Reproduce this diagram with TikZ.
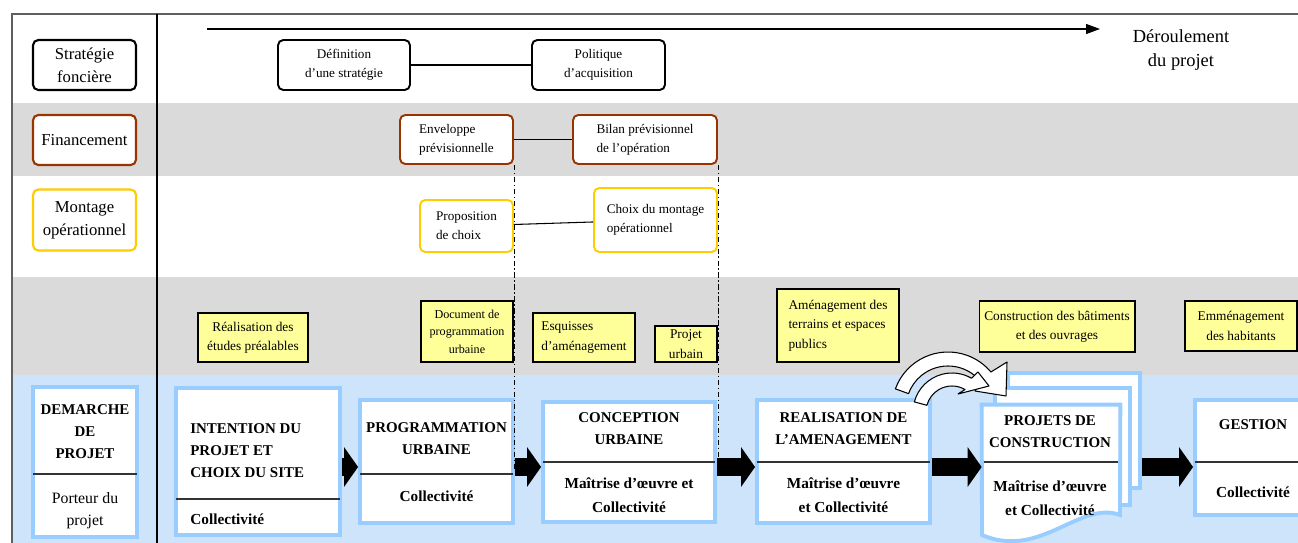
\documentclass[tikz,border=0pt]{standalone}
\usepackage{fontspec}
\setmainfont{Liberation Serif}
\usepackage{tikz}
\usetikzlibrary{calc}
\usetikzlibrary{positioning}
\usetikzlibrary{arrows.meta}

\definecolor{bandgray}{RGB}{218,218,218}
\definecolor{bandblue}{RGB}{206,228,250}
\definecolor{boxblue}{RGB}{153,204,255}
\definecolor{finbrown}{RGB}{153,51,0}
\definecolor{montgold}{RGB}{255,204,0}
\definecolor{noteyellow}{RGB}{255,255,153}
\definecolor{framegray}{RGB}{95,95,95}

\tikzset{
  lane/.style={draw, rounded corners=3pt, line width=1.2pt, fill=white, align=center, inner sep=1pt, font=\fontsize{9.5}{13}\selectfont},
  etape/.style={draw, rounded corners=3pt, line width=1.1pt, fill=white, align=center, inner sep=1pt, font=\fontsize{7.5}{11}\selectfont},
  livrable/.style={draw, line width=0.6pt, fill=noteyellow, align=center, inner sep=1pt, font=\fontsize{7.6}{11}\selectfont},
  phasebox/.style={draw=boxblue, line width=2.2pt, fill=white, inner sep=0pt},
  phasetitle/.style={font=\fontsize{8.5}{12.5}\selectfont\bfseries, align=center, inner sep=0pt},
  phaseactor/.style={font=\fontsize{8.7}{13.5}\selectfont\bfseries, align=center, inner sep=0pt},
  divider/.style={line width=0.7pt, black!80, shorten <=1.1pt, shorten >=1.1pt},
  flowarrow/.style={line width=0.38cm, -{Triangle[length=0.28cm,width=0.78cm]}},
  jalon/.style={dash pattern=on 3pt off 1.5pt on 0.8pt off 1.5pt, line width=0.5pt},
  curvearrow/.style={draw, fill=white, line width=0.6pt, line join=round},
}

\begin{document}
\begin{tikzpicture}[x=0.02cm, y=-0.02cm]
				\useasboundingbox (0,0) rectangle (1298,543);
				\clip (0,0) rectangle (1298,543);
				\fill[white] (0,0) rectangle (1298,543);
				
				% bandes
				\fill[bandgray] (12,103) rectangle (1298,176);
				\fill[bandgray] (12,277) rectangle (1298,375);
				\fill[bandblue] (12,375) rectangle (1298,543);
				\draw[framegray, line width=1.2pt] (12,543) -- (12,14) -- (1298,14);
				\draw[line width=0.6pt] (157,14) -- (157,543);
				
				% axe du temps
				\coordinate (debut) at (207,29);
				\coordinate (fin) at (1100,29);
				\draw[line width=0.7pt, -{Triangle[length=0.28cm,width=0.2cm]}] (debut) -- (fin);
				\node[font=\fontsize{10.5}{14}\selectfont, align=center] (deroulement) at (1181,50) {Déroulement\\du projet};
				
				\node[lane, minimum width=2.06cm, minimum height=1.0cm] (strategie) at (84.5,65) {Stratégie\\foncière};
				\node[lane, draw=finbrown, minimum width=2.06cm, minimum height=1.0cm] (financement) at (84.5,140) {Financement};
				\node[lane, draw=montgold, minimum width=2.06cm, minimum height=1.22cm] (montage) at (84.5,220) {Montage\\opérationnel};
				
				\node[etape, minimum width=2.64cm, minimum height=1.0cm] (definition) at (344,65) {Définition\\d’une stratégie};
				\node[etape, minimum width=2.66cm, minimum height=1.0cm] (politique) at (598.5,65) {Politique\\d’acquisition};
				\node[etape, draw=finbrown, align=left, minimum width=2.26cm, minimum height=0.98cm] (enveloppe) at (456.5,139.5) {Enveloppe\\prévisionnelle};
				\node[etape, draw=finbrown, align=left, minimum width=2.88cm, minimum height=0.98cm] (bilan) at (645,139.5) {Bilan prévisionnel\\de l’opération};
				\node[etape, draw=montgold, align=left, minimum width=1.86cm, minimum height=1.04cm] (proposition) at (466.5,226) {Proposition\\de choix};
				\node[etape, draw=montgold, align=left, minimum width=2.46cm, minimum height=1.28cm] (choix) at (655.5,220) {Choix du montage\\opérationnel};
				
				\draw[line width=0.6pt] (definition) -- (politique);
				\draw[line width=0.6pt] (enveloppe) -- (bilan);
				\draw[line width=0.6pt] (proposition) -- (choix);
				
				% livrables
				\node[livrable, minimum width=2.2cm, minimum height=0.98cm] (etudes) at (253,337.5) {Réalisation des\\études préalables};
				\node[livrable, font=\fontsize{6.9}{10}\selectfont, minimum width=1.84cm, minimum height=1.22cm] (document) at (467,331.5) {Document de\\programmation\\urbaine};
				\node[livrable, align=left, minimum width=2.04cm, minimum height=0.98cm] (esquisses) at (584,337.5) {Esquisses\\d’aménagement};
				\node[livrable, minimum width=1.24cm, minimum height=0.72cm] (projeturbain) at (686,344) {Projet\\urbain};
				\node[livrable, align=left, minimum width=2.44cm, minimum height=1.46cm] (amenagement) at (838,325.5) {Aménagement des\\terrains et espaces\\publics};
				\node[livrable, minimum width=3.12cm, minimum height=1.02cm] (construction) at (1057,326.5) {Construction des bâtiments\\et des ouvrages};
				\node[livrable, minimum width=2.24cm, minimum height=1.0cm] (emmenagement) at (1241,326) {Emménagement\\des habitants};
				
				% phases
				\node[phasebox, minimum width=2.08cm, minimum height=3.0cm] (demarche) at (85,462) {};
				\node[phasebox, minimum width=3.28cm, minimum height=2.94cm] (intention) at (258,461.5) {};
				\node[phasebox, minimum width=3.06cm, minimum height=2.46cm] (programmation) at (436.5,461.5) {};
				\node[phasebox, minimum width=3.44cm, minimum height=2.4cm] (conception) at (629,462) {};
				\node[phasebox, minimum width=3.46cm, minimum height=2.46cm] (realisation) at (843.5,461.5) {};
				\node[phasebox, minimum width=2.5cm, minimum height=2.3cm] (gestion) at (1257.5,457.5) {};
				
				\node[phasebox, minimum width=2.64cm, minimum height=2.3cm] (projetsback) at (1074,430.5) {};
				\node[phasebox, minimum width=2.7cm, minimum height=2.34cm] (projetsmid) at (1062.5,446.5) {};
				\node[inner sep=0pt, minimum width=2.76cm, minimum height=2.5cm] (projets) at (1051,467.5) {};
				\draw[draw=boxblue, line width=2.2pt, fill=white] (projets.north west) -- (projets.north east) -- (1120,515) .. controls (1080,500) and (1040,560) .. (982,535) -- cycle;
				
				\foreach \p/\h in {demarche/474, intention/499, programmation/474, conception/462, realisation/462, projets/462, gestion/462}
					\draw[divider] (\p.west |- 0,\h) -- (\p.east |- 0,\h);
				
				\node[phasetitle] (demarchetitle) at (85,432) {DEMARCHE\\DE\\PROJET};
				\node[font=\fontsize{9}{12.5}\selectfont, align=center, inner sep=0pt] (demarcheactor) at (85,511) {Porteur du\\projet};
				\node[phasetitle, align=left, anchor=west] (intentiontitle) at (190,451) {INTENTION DU\\PROJET ET\\CHOIX DU SITE};
				\node[phaseactor, anchor=west] (intentionactor) at (190,519) {Collectivité};
				\node[phasetitle] (programmationtitle) at (436.5,439) {PROGRAMMATION\\URBAINE};
				\node[phaseactor] (programmationactor) at (436.5,496) {Collectivité};
				\node[phasetitle] (conceptiontitle) at (629,429) {CONCEPTION\\URBAINE};
				\node[phaseactor] (conceptionactor) at (629,495.5) {Maîtrise d’œuvre et\\Collectivité};
				\node[phasetitle] (realisationtitle) at (843.5,429) {REALISATION DE\\L’AMENAGEMENT};
				\node[phaseactor] (realisationactor) at (843.5,495) {Maîtrise d’œuvre\\et Collectivité};
				\node[phasetitle] (projetstitle) at (1050,431.5) {PROJETS DE\\CONSTRUCTION};
				\node[phaseactor] (projetsactor) at (1050,498) {Maîtrise d’œuvre\\et Collectivité};
				\node[phasetitle] (gestiontitle) at (1253,425) {GESTION};
				\node[phaseactor] (gestionactor) at (1253,492) {Collectivité};
				
				% jalons
				\coordinate (jalonfin) at (0,470);
				\draw[jalon] (enveloppe.south east) -- (enveloppe.south east |- jalonfin);
				\draw[jalon] (bilan.south east) -- (bilan.south east |- jalonfin);
				
				% fleches courbes
				\coordinate (pivot) at (948,408);
				\coordinate (pivotsmall) at (952,412);
				\draw[curvearrow] ($(pivot)+(200:56)$) arc[start angle=200, end angle=320, radius=56]
					-- (1007,362) -- (1006,396) -- (975,391) -- ($(pivot)+(320:42)$)
					arc[start angle=320, end angle=200, radius=42] -- cycle;
				\draw[curvearrow] ($(pivotsmall)+(195:39)$) arc[start angle=195, end angle=300, radius=39]
					-- (978,372) -- (989,386) -- (958,394) -- ($(pivotsmall)+(300:26)$)
					arc[start angle=300, end angle=195, radius=26] -- cycle;
				
				% enchainement
				\coordinate (flowline) at (0,467);
				\foreach \a/\b in {intention/programmation, programmation/conception, conception/realisation, realisation/projets, projetsback/gestion}
					\draw[flowarrow] (\a.east |- flowline) -- (\b.west |- flowline);
			\end{tikzpicture}
\end{document}
